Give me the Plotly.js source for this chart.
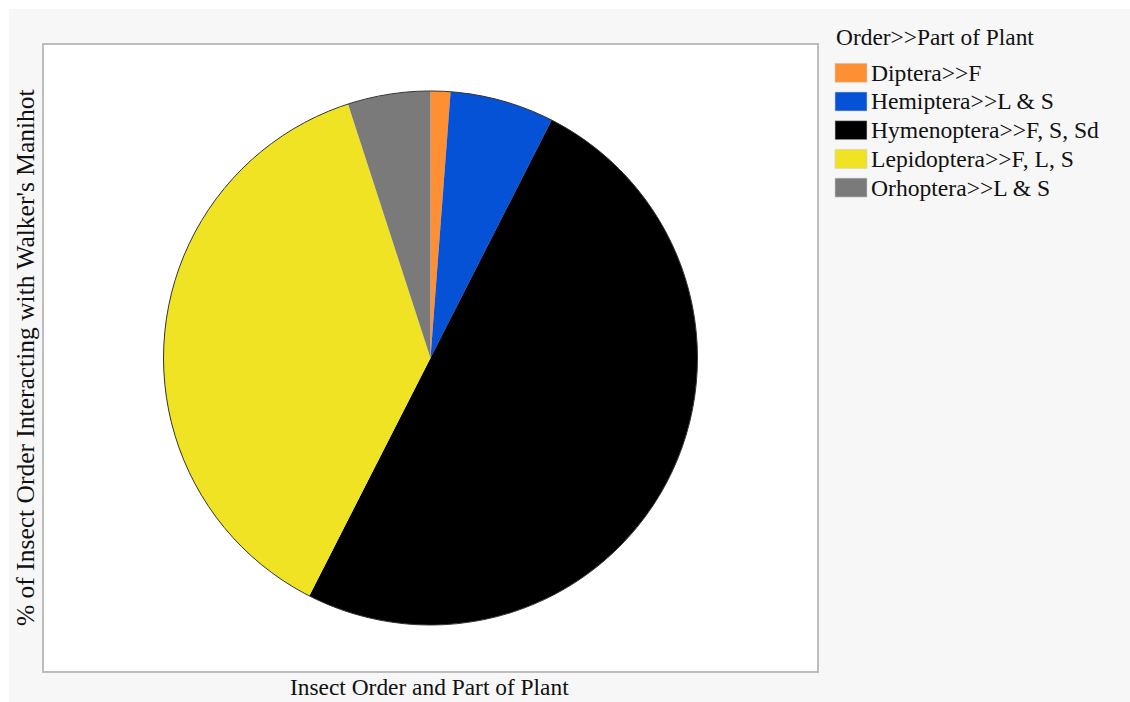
<!DOCTYPE html>
<html>
<head>
<meta charset="utf-8">
<script src="https://cdn.plot.ly/plotly-3.0.1.min.js"></script>
<style>html,body{margin:0;padding:0;background:#fff;}</style>
</head>
<body>
<div id="chart" style="width:1130px;height:702px;"></div>
<script>
const labels = ["Diptera>>F", "Hemiptera>>L & S", "Hymenoptera>>F, S, Sd", "Lepidoptera>>F, L, S", "Orhoptera>>L & S"];
const values = [1.2, 6.3, 50.0, 37.5, 5.0];
const colors = ["#ff8f33", "#0652d6", "#000000", "#efe323", "#7a7a7a"];
const legendTitle = "Order>>Part of Plant";
const xTitle = "Insect Order and Part of Plant";
const yTitle = "% of Insect Order Interacting with Walker's Manihot";

const FAM = "Liberation Serif, Times New Roman, serif";
const TXT = "#111111";

// plot area in pixels
const L = 43, R = 818, T = 44, B = 672;
const W = R - L, H = B - T;
const px = x => (x - L) / W;
const py = y => (B - y) / H;

const trace = {
  type: "pie",
  labels: labels,
  values: values,
  marker: {colors: colors, line: {width: 0}},
  sort: false,
  direction: "clockwise",
  rotation: 0,
  textinfo: "none",
  hoverinfo: "label+percent",
  showlegend: false,
  domain: {x: [0, 1], y: [0.0748, 0.9252]}
};

const shapes = [
  {type: "rect", xref: "paper", yref: "paper", layer: "below",
   x0: px(9), x1: px(1135), y0: py(707), y1: py(9),
   fillcolor: "#f7f7f7", line: {width: 0}},
  {type: "rect", xref: "paper", yref: "paper", layer: "below",
   x0: 0, x1: 1, y0: 0, y1: 1,
   fillcolor: "#ffffff", line: {color: "#bdbdbd", width: 2}},
  {type: "circle", xref: "paper", yref: "paper", layer: "above",
   x0: 0.1555, x1: 0.8445, y0: 0.0748, y1: 0.9252,
   line: {color: "#333", width: 1}}
];

const annotations = [
  {text: xTitle, xref: "paper", yref: "paper", x: px(429), y: py(687),
   xanchor: "center", yanchor: "middle", showarrow: false,
   font: {family: FAM, size: 23.4, color: TXT}},
  {text: yTitle, xref: "paper", yref: "paper", x: px(25), y: py(358),
   xanchor: "center", yanchor: "middle", textangle: -90, showarrow: false,
   font: {family: FAM, size: 25.5, color: TXT}},
  {text: legendTitle, xref: "paper", yref: "paper", x: px(834), y: py(37),
   xanchor: "left", yanchor: "middle", showarrow: false,
   font: {family: FAM, size: 23.4, color: TXT}}
];

// custom legend (swatches + labels), rows ~28.7px apart
const rowTop = 63.3, rowStep = 28.7, swH = 19;
labels.forEach((lab, i) => {
  const y0 = rowTop + i * rowStep;
  shapes.push({type: "rect", xref: "paper", yref: "paper",
    x0: px(835), x1: px(867), y0: py(y0 + swH), y1: py(y0),
    fillcolor: colors[i], line: {color: "#d0d0d0", width: 0.6}});
  annotations.push({text: lab, xref: "paper", yref: "paper",
    x: px(869), y: py(y0 + swH / 2), xanchor: "left", yanchor: "middle",
    showarrow: false, font: {family: FAM, size: 23.6, color: TXT}});
});

const layout = {
  width: 1130,
  height: 702,
  margin: {l: L, r: 1130 - R, t: T, b: 702 - B},
  paper_bgcolor: "#ffffff",
  showlegend: false,
  shapes: shapes,
  annotations: annotations
};

Plotly.newPlot("chart", [trace], layout, {displayModeBar: false, staticPlot: true});
</script>
</body>
</html>
